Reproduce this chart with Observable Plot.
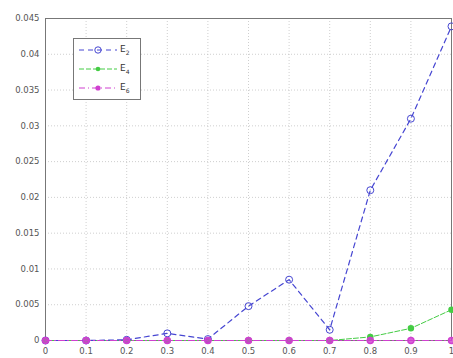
<!DOCTYPE html>
<html><head><meta charset="utf-8">
<script src="https://cdn.jsdelivr.net/npm/d3@7"></script>
<script src="https://cdn.jsdelivr.net/npm/@observablehq/plot@0.6"></script>
<style>
body{margin:0;background:#fff;font-family:"DejaVu Sans",sans-serif;}
#wrap{position:relative;width:453px;height:358px;}
#legend{position:absolute;left:73px;top:38px;width:66px;height:60px;border:1px solid #777;background:#fff;font-size:9px;color:#333;}
#legend .row{position:absolute;left:0;height:16px;display:flex;align-items:center;}
</style>
</head><body>
<div id="wrap"></div>
<script>
const xs = [0,0.1,0.2,0.3,0.4,0.5,0.6,0.7,0.8,0.9,1];
const e2 = [0,0,0.0001,0.001,0.0002,0.0048,0.0085,0.0015,0.021,0.031,0.0439];
const e4 = [0,0,0,0,0,0,0,0,0.0005,0.0017,0.0043];
const e6 = [0,0,0,0,0,0,0,0,0,0,0];
const yTicks = [0,0.005,0.01,0.015,0.02,0.025,0.03,0.035,0.04,0.045];
const xTicks = xs;
const names = ["E2","E4","E6"];
const colors = ["#4646d2","#44cc44","#d040d0"];

const d2 = xs.map((x,i)=>({x,y:e2[i]}));
const d4 = xs.map((x,i)=>({x,y:e4[i]}));
const d6 = xs.map((x,i)=>({x,y:e6[i]}));
const fmt = v => v===0 ? "0" : String(+v.toFixed(3));

const chart = Plot.plot({
  width:453, height:358,
  marginLeft:45, marginRight:2, marginTop:18, marginBottom:18,
  style:{fontSize:"8.5px", fontFamily:"DejaVu Sans, sans-serif", color:"#555", background:"#fff"},
  x:{domain:[0,1], label:null},
  y:{domain:[0,0.045], label:null},
  marks:[
    Plot.gridX(xTicks,{stroke:"#bbb", strokeOpacity:0.7, strokeDasharray:"1,2"}),
    Plot.gridY(yTicks,{stroke:"#bbb", strokeOpacity:0.7, strokeDasharray:"1,2"}),
    Plot.frame({stroke:"#777"}),
    Plot.axisX({ticks:xTicks, tickFormat:fmt, tickSize:0, tickPadding:7, fill:"#555"}),
    Plot.axisY({ticks:yTicks, tickFormat:fmt, tickSize:0, tickPadding:6, fill:"#555"}),
    Plot.line(d4,{x:"x",y:"y",stroke:colors[1],strokeWidth:1,strokeDasharray:"5,2"}),
    Plot.dot(d4,{x:"x",y:"y",r:2.5,fill:colors[1],stroke:colors[1]}),
    Plot.line(d2,{x:"x",y:"y",stroke:colors[0],strokeWidth:1.2,strokeDasharray:"5,4"}),
    Plot.dot(d2,{x:"x",y:"y",r:3.5,stroke:colors[0],strokeWidth:1,fill:"none"}),
    Plot.line(d6,{x:"x",y:"y",stroke:colors[2],strokeWidth:1.2,strokeDasharray:"6,3,1,3"}),
    Plot.dot(d6,{x:"x",y:"y",r:3,fill:colors[2],fillOpacity:0.8,stroke:colors[2]})
  ]
});
const wrap = document.getElementById("wrap");
wrap.appendChild(chart);

const leg = document.createElement("div");
leg.id = "legend";
const markers = [
  '<circle cx="20" cy="8" r="3.2" fill="none" stroke="'+colors[0]+'"/>',
  '<circle cx="20" cy="8" r="2.3" fill="'+colors[1]+'"/>',
  '<circle cx="20" cy="8" r="2.6" fill="'+colors[2]+'"/>'
];
const dashes = ["5,4","5,2","6,3,1,3"];
names.forEach((n,i)=>{
  const row = document.createElement("div");
  row.className="row";
  row.style.top = (3+i*19)+"px";
  row.innerHTML = '<svg width="40" height="16" style="margin-left:4px"><line x1="1" x2="39" y1="8" y2="8" stroke="'+colors[i]+'" stroke-dasharray="'+dashes[i]+'"/>'+markers[i]+'</svg><span style="margin-left:2px">'+n[0]+'<sub style="font-size:6px">'+n.slice(1)+'</sub></span>';
  leg.appendChild(row);
});
wrap.appendChild(leg);
</script>
</body></html>
